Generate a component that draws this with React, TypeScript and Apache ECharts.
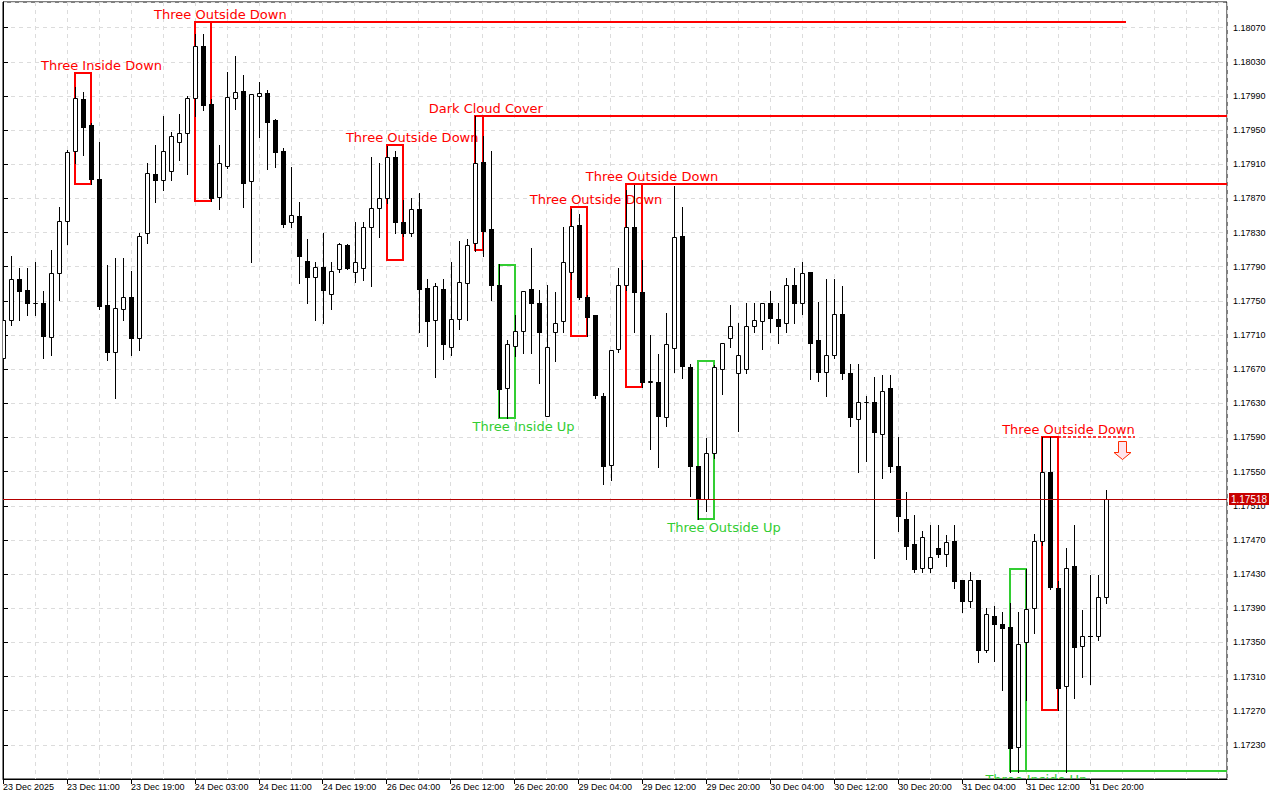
import React, { useEffect, useRef } from "react";
import * as echarts from "echarts";

// OHLC of EURUSD H1 bars (bar index = position in arrays)
const opens = [
  1.17683, 1.17728, 1.17775, 1.17763, 1.17748, 1.17748, 1.17708, 1.17783, 1.17844, 1.17925,
  1.17986, 1.17956, 1.17893, 1.17745, 1.1769, 1.17741, 1.17754, 1.17706, 1.17829, 1.17899,
  1.17891, 1.17902, 1.17936, 1.17947, 1.17987, 1.18049, 1.17981, 1.17872, 1.17908, 1.17988,
  1.17996, 1.1789, 1.1799, 1.17993, 1.17962, 1.17925, 1.17842, 1.17849, 1.17797, 1.17778,
  1.1779, 1.17758, 1.17787, 1.17815, 1.17784, 1.17788, 1.17836, 1.17859, 1.17871, 1.17919,
  1.17842, 1.1783, 1.17858, 1.17765, 1.17728, 1.17764, 1.17696, 1.17729, 1.17771, 1.17818,
  1.17913, 1.17834, 1.17768, 1.17648, 1.17697, 1.17715, 1.17764, 1.17748, 1.17615, 1.17714,
  1.17726, 1.17784, 1.17839, 1.17754, 1.17733, 1.17639, 1.17558, 1.17694, 1.17769, 1.17837,
  1.1776, 1.17655, 1.17655, 1.17614, 1.17695, 1.17826, 1.17673, 1.17557, 1.17518, 1.17572,
  1.1767, 1.17706, 1.17666, 1.1767, 1.1772, 1.17726, 1.17748, 1.17729, 1.17724, 1.17769,
  1.17748, 1.17784, 1.17704, 1.17667, 1.17686, 1.17735, 1.17665, 1.17612, 1.17632, 1.17632,
  1.17594, 1.17648, 1.17556, 1.17495, 1.17465, 1.17437, 1.17437, 1.17461, 1.17454, 1.17469,
  1.17423, 1.17398, 1.17423, 1.17341, 1.17381, 1.17372, 1.17368, 1.17228, 1.1735, 1.1739,
  1.17469, 1.1755, 1.17414, 1.17299, 1.17439, 1.17346, 1.17358, 1.17358, 1.17403,
];
const closes = [
  1.17728, 1.17775, 1.17761, 1.17748, 1.17748, 1.17709, 1.17783, 1.17843, 1.17924, 1.17988,
  1.17954, 1.17893, 1.17744, 1.1769, 1.17742, 1.17754, 1.17706, 1.17826, 1.179, 1.17891,
  1.17926, 1.17943, 1.17946, 1.17987, 1.18049, 1.17979, 1.17871, 1.17912, 1.17989, 1.17995,
  1.17888, 1.17992, 1.17994, 1.1796, 1.17924, 1.1784, 1.1785, 1.17802, 1.17778, 1.1779,
  1.17763, 1.17785, 1.17816, 1.17789, 1.17796, 1.17836, 1.17859, 1.1787, 1.17919, 1.17842,
  1.1783, 1.17858, 1.17764, 1.17726, 1.17767, 1.177, 1.17729, 1.17772, 1.17815, 1.17912,
  1.17832, 1.17768, 1.17647, 1.177, 1.17715, 1.17761, 1.17748, 1.17713, 1.17696, 1.17724,
  1.17795, 1.17838, 1.17754, 1.17731, 1.1764, 1.17557, 1.17693, 1.17769, 1.17837, 1.1776,
  1.17655, 1.17656, 1.17615, 1.177, 1.17825, 1.17674, 1.17556, 1.17518, 1.17572, 1.17672,
  1.17701, 1.1772, 1.17686, 1.17721, 1.17727, 1.17748, 1.1773, 1.17721, 1.17768, 1.17748,
  1.17783, 1.17701, 1.17667, 1.17687, 1.17735, 1.17665, 1.17614, 1.17632, 1.17632, 1.17596,
  1.17645, 1.17556, 1.17498, 1.17463, 1.17436, 1.17474, 1.1745, 1.17454, 1.17468, 1.17422,
  1.17398, 1.17423, 1.17341, 1.17383, 1.17372, 1.17367, 1.17226, 1.17348, 1.17389, 1.17469,
  1.1755, 1.17415, 1.17297, 1.17437, 1.17345, 1.17358, 1.17357, 1.17403, 1.17518,
];
const lows = [
  1.17681, 1.17722, 1.17727, 1.17734, 1.17734, 1.17683, 1.17687, 1.17751, 1.17816, 1.17912,
  1.17921, 1.17887, 1.1774, 1.17681, 1.17636, 1.17728, 1.17686, 1.17693, 1.17818, 1.17866,
  1.1788, 1.17892, 1.17915, 1.17899, 1.17966, 1.17974, 1.17867, 1.17858, 1.17906, 1.17975,
  1.1786, 1.17795, 1.17942, 1.17904, 1.17907, 1.17836, 1.17836, 1.17771, 1.17748, 1.17727,
  1.17724, 1.17741, 1.17784, 1.17787, 1.17772, 1.17774, 1.17767, 1.17825, 1.17865, 1.1783,
  1.17826, 1.17826, 1.17713, 1.17697, 1.17661, 1.17682, 1.17686, 1.17717, 1.17728, 1.17808,
  1.17802, 1.17751, 1.17614, 1.17613, 1.17685, 1.17689, 1.17689, 1.17654, 1.17615, 1.17679,
  1.17713, 1.17775, 1.17752, 1.17709, 1.17636, 1.17536, 1.1754, 1.1769, 1.17763, 1.17714,
  1.17649, 1.17576, 1.17555, 1.17603, 1.17667, 1.1766, 1.17521, 1.17494, 1.17504, 1.17566,
  1.17641, 1.17696, 1.17598, 1.17665, 1.17713, 1.17694, 1.17713, 1.17701, 1.17713, 1.17724,
  1.17735, 1.17658, 1.17656, 1.17638, 1.17683, 1.17658, 1.17604, 1.1755, 1.17562, 1.17449,
  1.17542, 1.17549, 1.1748, 1.17448, 1.17432, 1.17433, 1.17432, 1.1745, 1.17439, 1.17414,
  1.17385, 1.17392, 1.17327, 1.17339, 1.17328, 1.17294, 1.17198, 1.17198, 1.17283, 1.17361,
  1.17464, 1.17413, 1.17271, 1.17198, 1.17285, 1.1731, 1.17301, 1.17353, 1.17396,
];
const highs = [
  1.1773, 1.17803, 1.17789, 1.17789, 1.17796, 1.17762, 1.1781, 1.1786, 1.17927, 1.18001,
  1.17995, 1.17958, 1.17936, 1.17792, 1.178, 1.178, 1.17785, 1.1783, 1.17912, 1.17933,
  1.17967, 1.17948, 1.17969, 1.1799, 1.18062, 1.18062, 1.17986, 1.17933, 1.18018, 1.18037,
  1.18014, 1.17992, 1.18006, 1.17997, 1.17963, 1.17929, 1.17907, 1.17866, 1.17822, 1.17796,
  1.1783, 1.17796, 1.17818, 1.17816, 1.17842, 1.17842, 1.17919, 1.17912, 1.17931, 1.17925,
  1.17868, 1.1787, 1.17876, 1.17776, 1.17771, 1.17775, 1.17795, 1.1782, 1.17822, 1.17966,
  1.17943, 1.17925, 1.17793, 1.17704, 1.17734, 1.17762, 1.17812, 1.17763, 1.17769, 1.1776,
  1.17837, 1.17857, 1.17852, 1.17757, 1.17733, 1.17642, 1.17693, 1.17789, 1.1788, 1.17886,
  1.17798, 1.1771, 1.17688, 1.17736, 1.17885, 1.1786, 1.17676, 1.17557, 1.17589, 1.17675,
  1.17701, 1.17745, 1.17724, 1.17748, 1.17748, 1.17748, 1.17761, 1.17748, 1.17777, 1.17789,
  1.17795, 1.17784, 1.17749, 1.17776, 1.17776, 1.17767, 1.17676, 1.17676, 1.17639, 1.17661,
  1.17663, 1.17663, 1.17591, 1.17526, 1.17499, 1.1748, 1.17487, 1.17487, 1.17476, 1.17488,
  1.17423, 1.17433, 1.17423, 1.1739, 1.17393, 1.17385, 1.17396, 1.17386, 1.17436, 1.17477,
  1.17591, 1.17591, 1.17422, 1.1746, 1.17487, 1.17388, 1.17429, 1.17429, 1.17529,
];

// time-axis labels (bar index -> text)
const timeTickBars = [0, 8, 16, 24, 32, 40, 48, 56, 64, 72, 80, 88, 96, 104, 112, 120, 128, 136];
const timeTickLabels = [
  "23 Dec 2025", "23 Dec 11:00", "23 Dec 19:00", "24 Dec 03:00", "24 Dec 11:00", "24 Dec 19:00",
  "26 Dec 04:00", "26 Dec 12:00", "26 Dec 20:00", "29 Dec 04:00", "29 Dec 12:00", "29 Dec 20:00",
  "30 Dec 04:00", "30 Dec 12:00", "30 Dec 20:00", "31 Dec 04:00", "31 Dec 12:00", "31 Dec 20:00",
];

// candlestick patterns found
const patternNames = [
  "Three Inside Down", "Three Outside Down", "Three Outside Down", "Dark Cloud Cover", "Three Inside Up",
  "Three Outside Down", "Three Outside Down", "Three Outside Up", "Three Inside Up", "Three Outside Down",
];
const patternDir = ["down", "down", "down", "down", "up", "down", "down", "up", "up", "down"];
const patternFirstBar = [9, 24, 48, 59, 62, 71, 78, 87, 126, 130];
const patternLastBar = [11, 26, 50, 60, 64, 73, 80, 89, 128, 132];
const patternHigh = [1.18017, 1.18077, 1.17933, 1.17966, 1.17792, 1.1786, 1.17887, 1.1768, 1.17436, 1.17591];
const patternLow = [1.17887, 1.17867, 1.17798, 1.17809, 1.17613, 1.17709, 1.17649, 1.17494, 1.17199, 1.17271];
const patternLabelBar = [4.75, 18.9, 42.9, 53.25, 58.75, 65.9, 72.9, 83.1, 122.9, 125];

// support / resistance levels drawn from patterns
const levelFromBar = [24, 59, 78, 126, 132];
const levelToBar = [140.5, 160, 160, 160, 141.6];
const levelPrice = [1.18077, 1.17966, 1.17887, 1.17199, 1.17591];
const levelDir = ["down", "down", "down", "up", "down"];
const levelActive = [false, false, false, false, true];

const signalBar = [140];
const signalPrice = [1.17586];

const lastPrice = [1.17518];

const X_MIN = 0;
const X_MAX = 153.125;

const RED = "#ff0000";
const GREEN = "#32cd32";
const GRID = "#dcdcdc";

export default function App() {
  const ref = useRef<HTMLDivElement>(null);

  useEffect(() => {
    if (!ref.current) return;
    const chart = echarts.init(ref.current, undefined, { renderer: "svg" });

    const candleData = opens.map((o, i) => [i, o, closes[i], lows[i], highs[i]]);
    const patternData = patternNames.map((_, k) => [
      patternFirstBar[k], patternLastBar[k], patternHigh[k], patternLow[k], patternLabelBar[k],
    ]);
    const levelData = levelPrice.map((p, k) => [levelFromBar[k], levelToBar[k], p]);
    const signalData = signalBar.map((b, k) => [b, signalPrice[k]]);
    const lastData = lastPrice.map((p) => [X_MAX, p]);

    const option: any = {
      animation: false,
      backgroundColor: "#ffffff",
      textStyle: { fontFamily: "Liberation Sans" },
      grid: {
        left: 2, top: 2, right: 53, bottom: 21,
        show: true, borderColor: "#000", borderWidth: 1, backgroundColor: "transparent",
      },
      xAxis: [
        {
          type: "value", min: X_MIN, max: X_MAX, interval: 4,
          axisLine: { show: false }, axisTick: { show: false }, axisLabel: { show: false },
          splitLine: { show: true, lineStyle: { color: GRID, type: [4, 4], width: 1 } },
        },
        {
          type: "value", min: X_MIN, max: X_MAX, position: "bottom",
          axisLine: { show: true, onZero: false, lineStyle: { color: "#000", width: 1 } },
          axisTick: { show: true, length: 5, customValues: timeTickBars, lineStyle: { color: "#000" } },
          axisLabel: {
            show: true, customValues: timeTickBars, align: "left", margin: 3,
            color: "#000", fontSize: 9, fontFamily: "Liberation Sans",
            formatter: (v: number) => {
              const k = timeTickBars.indexOf(Math.round(v));
              return k >= 0 ? timeTickLabels[k] : "";
            },
          },
          splitLine: { show: false },
        },
      ],
      yAxis: {
        type: "value", position: "right", min: 1.1719, max: 1.181, interval: 0.0004,
        axisLine: { show: true, lineStyle: { color: "#000", width: 1 } },
        axisTick: { show: true, length: 5, lineStyle: { color: "#000" } },
        axisLabel: {
          color: "#000", fontSize: 9, fontFamily: "Liberation Sans", margin: 6,
          showMinLabel: false, showMaxLabel: false,
          formatter: (v: number) => v.toFixed(5),
        },
        splitLine: { show: true, lineStyle: { color: GRID, type: [4, 4], width: 1 } },
      },
      series: [
        {
          type: "custom",
          name: "patterns",
          xAxisIndex: 0,
          clip: true,
          z: 2,
          data: patternData,
          renderItem: (params: any, api: any) => {
            const k = params.dataIndex;
            const up = patternDir[k] === "up";
            const color = up ? GREEN : RED;
            const pTL = api.coord([api.value(0), api.value(2)]);
            const pBR = api.coord([api.value(1), api.value(3)]);
            const pLab = api.coord([api.value(4), api.value(2)]);
            const x1 = Math.round(pTL[0]);
            const x2 = Math.round(pBR[0]);
            const y1 = Math.round(pTL[1]);
            const y2 = Math.round(pBR[1]);
            return {
              type: "group",
              children: [
                {
                  type: "rect",
                  shape: { x: x1, y: y1, width: x2 - x1, height: y2 - y1 },
                  style: { fill: "none", stroke: color, lineWidth: 2 },
                },
                {
                  type: "text",
                  x: pLab[0],
                  y: up ? y2 + 8 : y1 - 8,
                  style: {
                    text: patternNames[k], fill: color, fontSize: 13, fontFamily: "DejaVu Sans",
                    align: "left", verticalAlign: "middle",
                  },
                },
              ],
            };
          },
        },
        {
          type: "custom",
          name: "levels",
          xAxisIndex: 0,
          clip: true,
          z: 2,
          data: levelData,
          renderItem: (params: any, api: any) => {
            const k = params.dataIndex;
            const color = levelDir[k] === "up" ? GREEN : RED;
            const a = api.coord([api.value(0), api.value(2)]);
            const b = api.coord([api.value(1), api.value(2)]);
            const y = Math.round(a[1]);
            return {
              type: "line",
              shape: { x1: Math.round(a[0]), y1: y, x2: Math.round(b[0]), y2: y },
              style: levelActive[k]
                ? { stroke: color, lineWidth: 1.5, lineDash: [3, 2] }
                : { stroke: color, lineWidth: 2 },
            };
          },
        },
        {
          type: "custom",
          name: "signal",
          xAxisIndex: 0,
          clip: true,
          z: 4,
          data: signalData,
          renderItem: (params: any, api: any) => {
            const p = api.coord([api.value(0), api.value(1)]);
            const ax = Math.round(p[0]) + 0.5;
            const ay = Math.round(p[1]) + 0.5;
            return {
              type: "polygon",
              shape: {
                points: [
                  [ax - 4, ay], [ax + 4, ay], [ax + 4, ay + 11], [ax + 8.5, ay + 11],
                  [ax, ay + 18], [ax - 8.5, ay + 11], [ax - 4, ay + 11],
                ],
              },
              style: { fill: "#ffe4ec", stroke: "#ff2a00", lineWidth: 1 },
            };
          },
        },
        {
          type: "custom",
          name: "EURUSD",
          xAxisIndex: 0,
          clip: true,
          z: 3,
          data: candleData,
          renderItem: (params: any, api: any) => {
            const i = api.value(0);
            const o = api.value(1);
            const c = api.value(2);
            const l = api.value(3);
            const h = api.value(4);
            const pO = api.coord([i, o]);
            const pC = api.coord([i, c]);
            const pL = api.coord([i, l]);
            const pH = api.coord([i, h]);
            const cx = Math.round(pO[0]);
            const yTop = Math.round(Math.min(pO[1], pC[1]));
            const yBot = Math.round(Math.max(pO[1], pC[1]));
            const yH = Math.round(pH[1]);
            const yL = Math.round(pL[1]);
            const bull = c >= o;
            const wick = {
              type: "line",
              shape: { x1: cx + 0.5, y1: yH, x2: cx + 0.5, y2: yL + 1 },
              style: { stroke: "#000", lineWidth: 1 },
            };
            const body = bull
              ? {
                  type: "rect",
                  shape: { x: cx - 1.5, y: yTop + 0.5, width: 4, height: Math.max(yBot - yTop, 0) },
                  style: { fill: "#fff", stroke: "#000", lineWidth: 1 },
                }
              : {
                  type: "rect",
                  shape: { x: cx - 2, y: yTop, width: 5, height: Math.max(yBot - yTop + 1, 1) },
                  style: { fill: "#000" },
                };
            return { type: "group", children: [wick, body] };
          },
        },
        {
          type: "custom",
          name: "last price",
          xAxisIndex: 0,
          clip: false,
          z: 5,
          data: lastData,
          renderItem: (params: any, api: any) => {
            const pEnd = api.coord([api.value(0), api.value(1)]);
            const pStart = api.coord([X_MIN, api.value(1)]);
            const y = Math.round(pEnd[1]) + 0.5;
            const xe = Math.round(pEnd[0]);
            return {
              type: "group",
              children: [
                {
                  type: "line",
                  shape: { x1: Math.round(pStart[0]), y1: y, x2: xe, y2: y },
                  style: { stroke: "#b40000", lineWidth: 1 },
                },
                {
                  type: "rect",
                  shape: { x: xe + 2, y: y - 6.5, width: 40, height: 12 },
                  style: { fill: "#c80000" },
                },
                {
                  type: "text",
                  x: xe + 22,
                  y: y,
                  style: {
                    text: (api.value(1) as number).toFixed(5), fill: "#ffffff", fontSize: 10,
                    fontFamily: "Liberation Sans", align: "center", verticalAlign: "middle",
                  },
                },
              ],
            };
          },
        },
      ],
    };

    chart.setOption(option);
    return () => chart.dispose();
  }, []);

  return (
    <div
      ref={ref}
      style={{ position: "fixed", left: 0, top: 0, width: 1280, height: 800, background: "#fff" }}
    />
  );
}
